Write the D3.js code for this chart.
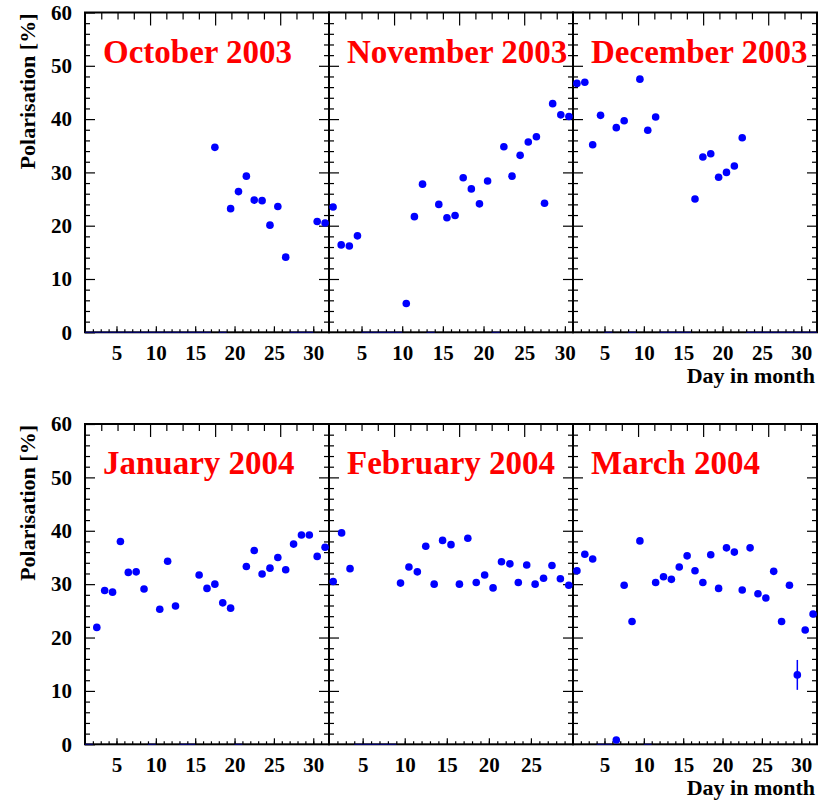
<!doctype html>
<html lang="en">
<head>
  <meta charset="utf-8">
  <title>Polarisation per day</title>
  <script src="https://cdn.jsdelivr.net/npm/d3@7"></script>
  <style>
    body { margin: 0; background: #fff; }
    svg { display: block; }
    text { font-family: "Liberation Serif", "Times New Roman", serif; font-weight: bold; }
  </style>
</head>
<body>
<svg id="chart" width="831" height="801"></svg>
<script>

// [day in month, polarisation %]
var oct2003 = [[17.5,34.7],[19.5,23.2],[20.5,26.4],[21.5,29.3],[22.5,24.8],[23.5,24.7],
  [24.5,20.1],[25.5,23.6],[26.5,14.1],[30.5,20.8],[31.5,20.5]];
var nov2003 = [[1.5,23.5],[2.5,16.4],[3.5,16.2],[4.5,18.1],[10.5,5.4],[11.5,21.7],[12.5,27.8],
  [14.5,24.0],[15.5,21.5],[16.5,21.9],[17.5,29.0],[18.5,26.9],[19.5,24.1],[20.5,28.4],
  [22.5,34.8],[23.5,29.3],[24.5,33.2],[25.5,35.7],[26.5,36.7],[27.5,24.2],[28.5,42.9],
  [29.5,40.8],[30.5,40.5]];
var dec2003 = [[1.5,46.7],[2.5,46.9],[3.5,35.2],[4.5,40.7],[6.5,38.4],[7.5,39.7],[9.5,47.5],
  [10.5,37.9],[11.5,40.4],[16.5,25.0],[17.5,32.9],[18.5,33.5],[19.5,29.1],[20.5,30.0],
  [21.5,31.2],[22.5,36.5]];
var jan2004 = [[2.5,21.9],[3.5,28.8],[4.5,28.5],[5.5,38.0],[6.5,32.2],[7.5,32.3],[8.5,29.1],
  [10.5,25.3],[11.5,34.3],[12.5,25.9],[15.5,31.7],[16.5,29.2],[17.5,30.0],[18.5,26.5],
  [19.5,25.5],[21.5,33.3],[22.5,36.3],[23.5,31.9],[24.5,33.0],[25.5,35.0],[26.5,32.7],
  [27.5,37.5],[28.5,39.2],[29.5,39.2],[30.5,35.2],[31.5,36.9]];
var feb2004 = [[1.5,30.5],[2.5,39.6],[3.5,32.9],[9.5,30.2],[10.5,33.2],[11.5,32.3],[12.5,37.1],
  [13.5,30.0],[14.5,38.2],[15.5,37.4],[16.5,30.0],[17.5,38.6],[18.5,30.3],[19.5,31.7],
  [20.5,29.3],[21.5,34.2],[22.5,33.8],[23.5,30.3],[24.5,33.6],[25.5,30.0],[26.5,31.1],
  [27.5,33.5],[28.5,31.0],[29.5,29.8]];
var mar2004 = [[1.5,32.5],[2.5,35.6],[3.5,34.7],[6.5,0.8],[7.5,29.8],[8.5,23.0],[9.5,38.1],
  [11.5,30.3],[12.5,31.4],[13.5,30.9],[14.5,33.2],[15.5,35.3],[16.5,32.5],[17.5,30.3],
  [18.5,35.5],[19.5,29.2],[20.5,36.8],[21.5,36.0],[22.5,28.9],[23.5,36.8],[24.5,28.2],
  [25.5,27.4],[26.5,32.4],[27.5,23.0],[28.5,29.8],[29.5,13.0],[30.5,21.4],[31.5,24.4]];
// visible error bars: [day, value, error]
var mar2004Err = [[29.5,13.0,2.8]];

var monthNames = ["October 2003","November 2003","December 2003","January 2004","February 2004","March 2004"];
var monthData = [oct2003, nov2003, dec2003, jan2004, feb2004, mar2004];
var monthErr = [[], [], [], [], [], mar2004Err];
var axisEnd = [32, 31, 32, 32, 30, 32];   // x axis runs from 1 to this
var dayLabels = [5, 10, 15, 20, 25, 30];
var yLabels = [0, 10, 20, 30, 40, 50, 60];

var svg = d3.select("#chart");
var cols = [85, 329, 573, 817];
var rows = [[12.5, 332.3], [424, 744.3]];

function styleAxis(g) {
  g.select(".domain").remove();
  g.attr("font-family", null).attr("font-size", null);
  g.selectAll("line").attr("stroke", "#000").attr("stroke-width", 1.2);
  g.selectAll("text").attr("font-size", 21).attr("fill", "#000");
}

monthNames.forEach(function (name, i) {
  var r = Math.floor(i / 3), c = i % 3;
  var x0 = cols[c], x1 = cols[c + 1], yt = rows[r][0], yb = rows[r][1];
  var x = d3.scaleLinear().domain([1, axisEnd[i]]).range([x0, x1]);
  var y = d3.scaleLinear().domain([0, 60]).range([yb, yt]);
  var top = d3.scaleLinear().domain([0, 15]).range([x0, x1]);
  var g = svg.append("g");

  // bottom ticks
  g.append("g").attr("transform", "translate(0," + yb + ")")
    .call(d3.axisBottom(x).tickValues(d3.range(2, axisEnd[i])).tickSize(-3).tickFormat(""))
    .call(styleAxis);
  g.append("g").attr("transform", "translate(0," + yb + ")")
    .call(d3.axisBottom(x).tickValues(dayLabels.filter(d => d < axisEnd[i] - 0.5))
      .tickSize(-6).tickPadding(13))
    .call(styleAxis);

  // top ticks
  g.append("g").attr("transform", "translate(0," + yt + ")")
    .call(d3.axisTop(top).tickValues(d3.range(1, 15).filter(k => k % 4)).tickSize(-7).tickFormat(""))
    .call(styleAxis);
  g.append("g").attr("transform", "translate(0," + yt + ")")
    .call(d3.axisTop(top).tickValues([4, 8, 12]).tickSize(-13).tickFormat(""))
    .call(styleAxis);

  // left and right ticks
  var minorY = d3.range(2, 60, 2).filter(v => v % 10);
  [[x0, d3.axisLeft], [x1, d3.axisRight]].forEach(function (s) {
    g.append("g").attr("transform", "translate(" + s[0] + ",0)")
      .call(s[1](y).tickValues(minorY).tickSize(-5).tickFormat(""))
      .call(styleAxis);
    var major = s[1](y).tickValues(yLabels.slice(1, 6)).tickSize(-10).tickFormat("");
    if (c === 0 && s[0] === x0) {
      major = s[1](y).tickValues(yLabels).tickSize(-10).tickPadding(13);
    }
    g.append("g").attr("transform", "translate(" + s[0] + ",0)")
      .call(major)
      .call(styleAxis);
  });

  // frame
  g.append("rect")
    .attr("x", x0).attr("y", yt).attr("width", x1 - x0).attr("height", yb - yt)
    .attr("fill", "none").attr("stroke", "#000").attr("stroke-width", 2);

  // empty days: histogram line lying on zero
  var filled = monthData[i].map(d => Math.floor(d[0]));
  var empty = d3.range(1, axisEnd[i]).filter(d => filled.indexOf(d) < 0);
  g.selectAll("line.zero").data(empty).join("line")
    .attr("class", "zero")
    .attr("x1", d => x(d)).attr("x2", d => x(d + 1))
    .attr("y1", y(0)).attr("y2", y(0))
    .attr("stroke", "#000080").attr("stroke-width", 1);

  // month title
  g.append("text")
    .attr("x", x0 + 18).attr("y", yt + 50)
    .attr("font-size", 33).attr("fill", "#ff0000")
    .text(name);

  monthData[i].forEach(function (d) { d.x = x(d[0]); d.y = y(d[1]); });
  monthErr[i].forEach(function (d) { d.x = x(d[0]); d.y0 = y(d[1] - d[2]); d.y1 = y(d[1] + d[2]); });
});

// markers last so they sit over the neighbouring frames
monthData.forEach(function (data, i) {
  svg.append("g").selectAll("line").data(monthErr[i]).join("line")
    .attr("x1", d => d.x).attr("x2", d => d.x)
    .attr("y1", d => d.y0).attr("y2", d => d.y1)
    .attr("stroke", "#0000ff").attr("stroke-width", 1.5);
  svg.append("g").selectAll("circle").data(data).join("circle")
    .attr("cx", d => d.x).attr("cy", d => d.y).attr("r", 3.8)
    .attr("fill", "#0000ff");
});

// axis titles
rows.forEach(function (rw) {
  svg.append("text")
    .attr("transform", "translate(35," + (rw[0] + 1) + ") rotate(-90)")
    .attr("text-anchor", "end").attr("font-size", 22)
    .text("Polarisation [%]");
  svg.append("text")
    .attr("x", 815).attr("y", rw[1] + 51)
    .attr("text-anchor", "end").attr("font-size", 22)
    .text("Day in month");
});

</script>
</body>
</html>
